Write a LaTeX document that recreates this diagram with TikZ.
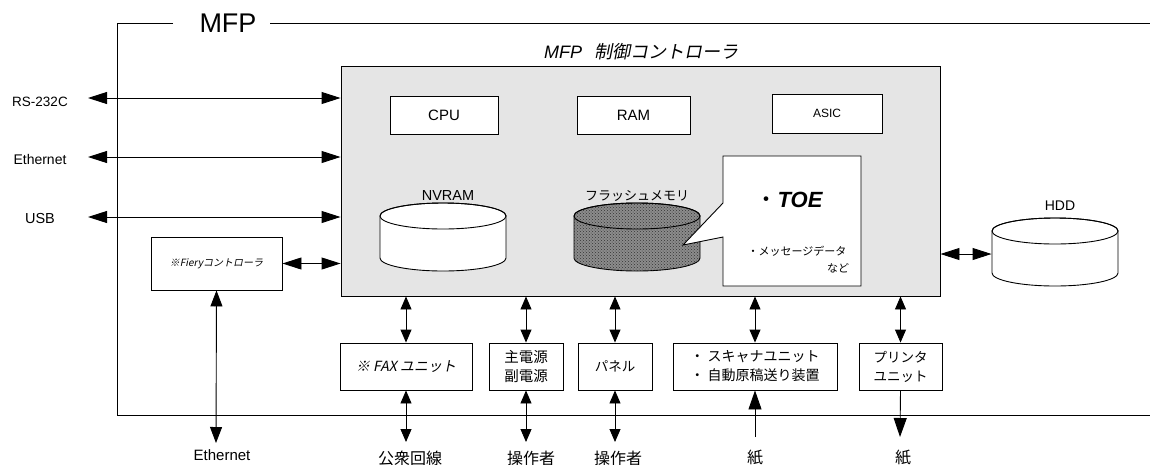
\documentclass[tikz,border=0pt]{standalone}
\usepackage{fontspec}
\setmainfont{Liberation Sans}
\newfontfamily\jp{Noto Sans CJK JP}
\newfontfamily\jpit[FakeSlant=0.2]{Noto Sans CJK JP}
\usetikzlibrary{arrows.meta,patterns}
\newcommand\fsz[2][0]{\fontsize{#2}{#2}\selectfont}

\begin{document}
\begin{tikzpicture}[x=1pt,y=-1pt,line width=0.9pt,
  box/.style={draw,fill=white,inner sep=0pt,align=center},
  bothbig/.style={>={Triangle[length=19pt,width=12pt]},<->},
  bothsmall/.style={>={Triangle[length=13pt,width=11pt]},<->},
  onebig/.style={>={Triangle[length=19pt,width=13pt]},->},
  drumwhite/.style={draw,fill=white},
  drumflash/.style={draw,fill=black!45,postaction={pattern=crosshatch dots,pattern color=black!80}},
  lbl/.style={inner sep=0pt}]
\useasboundingbox (0,0) rectangle (1150,464);
% MFP frame
\node[lbl,font=\fsz{27}] (mfp) at (228,23) {MFP};
\draw (173,23) -- (117,23) -- (117,415) -- (1150,415);
\draw (270,23) -- (1150,23);
% controller
\node[draw,fill=black!10,minimum width=599pt,minimum height=230pt] (ctrl) at (640.5,181) {};
\node[lbl,font=\fsz{18}] (ctrltitle) at (641,52) {\itshape MFP\hspace{12pt}\jpit 制御コントローラ};
\node[box,minimum width=108pt,minimum height=38pt,font=\fsz{15}] (cpu) at (444,115) {CPU};
\node[box,minimum width=113pt,minimum height=38pt,font=\fsz{15}] (ram) at (633.5,115) {RAM};
\node[box,minimum width=110pt,minimum height=39pt,font=\fsz{12}] (asic) at (827,113.5) {ASIC};
% drums
\foreach \cx/\ty/\by/\st in {443/216/258/drumwhite,637/216/258/drumflash,1055/231/273/drumwhite}{
  \draw[\st] (\cx-63,\ty) -- (\cx-63,\by) arc[start angle=180,end angle=360,x radius=63pt,y radius=13pt]
    -- (\cx+63,\ty) arc[start angle=0,end angle=180,x radius=63pt,y radius=13pt] -- cycle;
  \draw (\cx,\ty) ellipse[x radius=63pt,y radius=13pt];
}
\node[lbl,font=\fsz{14.5}] (nvram) at (448,196) {NVRAM};
\node[lbl,font=\jp\fsz{13}] (flash) at (637,196) {フラッシュメモリ};
\node[lbl,font=\fsz{14}] (hddlbl) at (1060,206) {HDD};
\node[minimum width=126pt,minimum height=64pt] (hdd) at (1055,254) {};
% callout
\draw[fill=white] (723,156) -- (861,156) -- (861,286) -- (723,286) -- (723,237) -- (683,245) -- (723,203) -- cycle;
\node[lbl,font=\fsz{22}] (toe) at (789,200) {{\jp ・}\bfseries\itshape TOE};
\node[lbl,font=\jp\fsz{11}] (msg) at (797,251) {・メッセージデータ};
\node[lbl,font=\jp\fsz{11}] (nado) at (838,268) {など};
% left side
\node[lbl,font=\fsz{13.5}] (rs) at (40,102) {RS-232C};
\node[lbl,font=\fsz{14}] (eth) at (40,159) {Ethernet};
\node[lbl,font=\fsz{14.5}] (usb) at (40,219) {USB};
\coordinate (rsend) at (88,98);
\coordinate (ethend) at (88,157);
\coordinate (usbend) at (88,217);
\foreach \c in {rsend,ethend,usbend}
  \draw[bothbig] (\c) -- (\c -| ctrl.west);
\node[box,minimum width=131pt,minimum height=53pt,font=\jpit\fsz{10}] (fiery) at (216.5,263.5) {※Fieryコントローラ};
\draw[bothbig] (fiery.east) -- (fiery.east -| ctrl.west);
\coordinate (fieryout) at (216,443);
\draw[>={Triangle[length=16pt,width=12pt]},<->] (fiery.south) -- (fieryout);
\node[lbl,font=\fsz{15}] (ethbot) at (222,455) {Ethernet};
% HDD link
\draw[bothbig] (ctrl.east |- hdd.west) -- (hdd.west);
% lower units
\node[box,minimum width=132pt,minimum height=47pt,font=\jpit\fsz{14}] (fax) at (406,366.5) {※ FAX ユニット};
\node[box,minimum width=74pt,minimum height=47pt,font=\jp\fontsize{14.5}{19}\selectfont] (power) at (526,366.5) {主電源\\副電源};
\node[box,minimum width=74pt,minimum height=47pt,font=\jp\fsz{13.5}] (panel) at (615,366.5) {パネル};
\node[box,minimum width=164pt,minimum height=47pt,align=left,font=\jp\fontsize{14}{19}\selectfont] (scan) at (755,366.5) {・ スキャナユニット\\・ 自動原稿送り装置};
\node[box,minimum width=83pt,minimum height=47pt,font=\jp\fontsize{13.5}{19}\selectfont] (prn) at (900.5,366.5) {プリンタ\\ユニット};
\foreach \b in {fax,power,panel,scan,prn}
  \draw[bothsmall] (\b.north |- ctrl.south) -- (\b.north);
\coordinate (faxout) at (406,442);
\coordinate (powerout) at (526,442);
\coordinate (panelout) at (615,442);
\coordinate (scanin) at (755,437);
\coordinate (prnout) at (900,437);
\draw[bothsmall] (fax.south) -- (faxout);
\draw[bothsmall] (power.south) -- (powerout);
\draw[bothsmall] (panel.south) -- (panelout);
\draw[onebig] (scanin) -- (scan.south);
\draw[onebig] (prn.south) -- (prnout);
\node[lbl,font=\jp\fsz{16}] (pub) at (410,458) {公衆回線};
\node[lbl,font=\jp\fsz{16}] (op1) at (531,458) {操作者};
\node[lbl,font=\jp\fsz{16}] (op2) at (618,458) {操作者};
\node[lbl,font=\jp\fsz{16}] (paperin) at (755,458) {紙};
\node[lbl,font=\jp\fsz{16}] (paperout) at (903,458) {紙};
\end{tikzpicture}
\end{document}
